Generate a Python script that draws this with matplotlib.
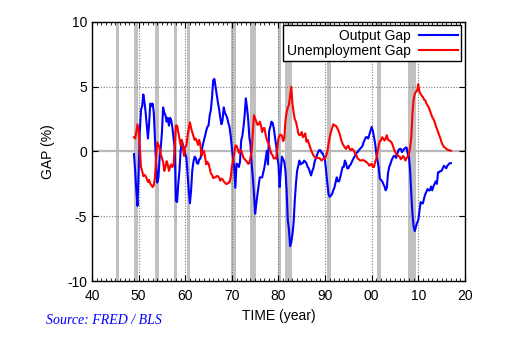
import numpy as np
import matplotlib
matplotlib.use("Agg")
import matplotlib.pyplot as plt
from matplotlib.ticker import MultipleLocator

# ===============================
# DATA (quarterly)
# ===============================
start_year = 1949.0

output_gap = [
    -0.2, -1.5, -3.0, -4.2,   # 1949
    -1.5, 1.5, 3.2, 3.5,      # 1950
    4.4, 3.8, 3.0, 2.0,
    1.0, 2.2, 3.7, 3.5,
    3.7, 3.0, 1.0, -1.0,
    -2.4, -2.0, -0.5, 0.3,
    1.5, 3.4, 3.0, 2.8,
    2.3, 2.6, 2.0, 2.6,
    2.4, 1.8, 1.0, 0.3,
    -3.8, -3.9, -2.5, -1.5,
    0.0, 0.85, 0.5, 0.3,
    -0.15, -0.5, -1.8, -3.0,  # 1960
    -4.0, -3.0, -1.5, -0.8,
    -0.4, -0.5, -0.9, -0.95,
    -0.6, -0.55, 0.0, 0.5,
    0.85, 1.2, 1.6, 1.9,
    2.0, 2.8, 3.2, 4.2,
    5.5, 5.6, 5.0, 4.45,
    3.8, 3.3, 2.65, 2.1,
    2.4, 3.4, 3.0, 2.8,
    2.6, 2.2, 1.9, 1.2,
    0.3, -0.5, -1.2, -2.8,    # 1970
    -0.95, -1.0, -1.2, -0.8,
    0.85, 1.2, 1.9, 2.8,
    4.1, 3.4, 2.5, 1.1,
    0.5, -0.95, -2.0, -3.3,
    -4.8, -4.0, -3.3, -2.6,
    -2.0, -2.0, -2.0, -1.6,
    -1.2, -0.6, 0.05, -1.0,
    1.6, 1.9, 2.3, 2.2,
    1.8, 1.1, 0.5, -0.45,
    -1.0, -2.75, -1.5, -0.4,  # 1980
    -0.6, -0.8, -1.5, -3.0,
    -5.3, -6.0, -7.3, -7.0,
    -6.4, -5.5, -3.8, -2.5,
    -1.5, -1.1, -0.7, -1.0,
    -0.9, -0.9, -0.7, -0.8,
    -0.9, -1.2, -1.3, -1.6,
    -1.85, -1.5, -1.3, -0.8,
    -0.55, -0.3, -0.05, 0.1,
    0.1, -0.1, -0.15, -0.4,
    -0.7, -1.6, -2.5, -3.3,   # 1990
    -3.5, -3.4, -3.3, -3.0,
    -2.8, -2.4, -2.0, -2.3,
    -2.3, -2.0, -1.6, -1.2,
    -1.2, -0.7, -0.9, -1.3,
    -1.3, -1.1, -1.0, -0.8,
    -0.6, -0.45, -0.3, -0.1,
    -0.05, 0.1, 0.2, 0.3,
    0.4, 0.7, 0.9, 1.1,
    1.1, 1.0, 1.3, 1.6,
    1.9, 1.6, 1.1, 0.6,       # 2000
    -0.2, -0.7, -1.2, -2.1,
    -2.2, -2.3, -2.5, -2.7,
    -3.0, -2.8, -1.7, -1.2,
    -1.0, -0.7, -0.5, -0.35,
    -0.35, -0.5, -0.2, 0.1,
    0.2, 0.2, -0.05, 0.1,
    0.2, 0.3, 0.3, -0.2,
    -0.4, -1.5, -3.3, -4.8,
    -5.8, -6.15, -5.8, -5.5,
    -5.3, -4.6, -3.9, -4.0,   # 2010
    -4.0, -3.6, -3.3, -3.1,
    -2.9, -3.0, -3.0, -2.7,
    -3.0, -2.7, -2.5, -2.3,
    -2.5, -1.6, -1.6, -1.5,
    -1.5, -1.3, -1.1, -1.2,
    -1.3, -1.1, -1.0, -0.9,
    -0.9,                     # 2017
]

unemployment_gap = [
    1.1, 1.0, 1.5, 2.1,       # 1949
    1.6, 0.35, -1.2, -1.5,    # 1950
    -1.9, -1.8, -1.9, -2.1,
    -2.35, -2.2, -2.5, -2.6,
    -2.75, -2.6, -2.0, -0.5,
    0.7, 0.5, 0.3, -0.2,
    -0.5, -0.8, -1.5, -1.2,
    -0.75, -1.0, -1.5, -1.2,
    -1.0, -1.2, -1.0, 0.5,
    2.0, 2.0, 1.5, 1.0,
    0.5, 0.9, 0.3, -0.35,
    0.3, 0.5, 1.2, 1.8,       # 1960
    2.25, 1.8, 1.5, 1.2,
    0.9, 1.0, 0.8, 0.5,
    0.9, 0.5, -0.35, 0.0,
    0.05, -0.4, -1.0, -0.8,
    -0.95, -1.3, -1.7, -1.8,
    -2.05, -2.0, -2.0, -1.9,
    -1.9, -2.0, -2.25, -2.1,
    -2.15, -2.3, -2.4, -2.5,
    -2.5, -2.4, -2.4, -2.0,
    -1.2, -0.7, -0.2, 0.45,   # 1970
    0.45, 0.2, -0.1, 0.1,
    0.05, -0.2, -0.5, -0.6,
    -0.7, -0.8, -0.95, -0.9,
    -0.45, 0.0, 1.5, 2.8,
    2.55, 2.3, 2.05, 2.1,
    2.3, 2.0, 1.5, 1.8,
    1.8, 1.3, 0.9, 0.7,
    0.5, 0.1, -0.2, -0.3,
    -0.55, -0.5, -0.55, 0.2,
    1.0, 1.25, 1.3, 1.2,      # 1980
    0.8, 1.0, 2.4, 3.0,
    3.4, 3.6, 4.3, 5.0,
    3.7, 3.0, 2.5, 2.3,
    1.9, 1.4, 1.25, 1.3,
    1.5, 1.1, 1.2, 1.4,
    0.75, 0.9, 0.65, 0.4,
    0.1, -0.1, -0.3, -0.4,
    -0.5, -0.5, -0.5, -0.5,
    -0.6, -0.7, -0.6, -0.55,
    -0.55, -0.3, 0.0, 0.6,    # 1990
    1.1, 1.5, 1.8, 2.1,
    2.0, 2.0, 1.9, 1.7,
    1.5, 1.2, 0.85, 0.6,
    0.45, 0.3, 0.2, 0.35,
    0.45, 0.2, 0.1, 0.2,
    0.15, 0.0, -0.2, -0.3,
    -0.55, -0.6, -0.7, -0.7,
    -0.65, -0.7, -0.7, -0.8,
    -0.85, -0.95, -1.1, -1.0,
    -0.95, -1.2, -1.2, -0.8,  # 2000
    -0.55, -0.1, 0.45, 0.8,
    0.85, 1.1, 1.0, 0.85,
    1.0, 1.25, 0.9, 0.85,
    0.8, 0.7, 0.5, 0.2,
    0.0, -0.2, -0.3, -0.35,
    -0.4, -0.6, -0.5, -0.35,
    -0.5, -0.7, -0.5, -0.4,
    -0.2, 0.3, 1.1, 2.9,
    4.0, 4.45, 4.6, 4.7,
    5.2, 4.6, 4.45, 4.3,      # 2010
    4.2, 4.0, 3.95, 3.7,
    3.55, 3.4, 3.15, 2.9,
    2.65, 2.5, 2.3, 2.0,
    1.75, 1.5, 1.25, 1.0,
    0.7, 0.5, 0.35, 0.3,
    0.2, 0.15, 0.1, 0.1,
    0.05,                     # 2017
]

# NBER recessions (start, end)
recessions = [
    (1945.1, 1945.8), (1948.9, 1949.8), (1953.5, 1954.4), (1957.6, 1958.3),
    (1960.3, 1961.1), (1969.9, 1970.9), (1973.9, 1975.2), (1980.0, 1980.5),
    (1981.5, 1982.9), (1990.5, 1991.2), (2001.2, 2001.9), (2007.9, 2009.5),
]

x_ticks = [1940, 1950, 1960, 1970, 1980, 1990, 2000, 2010, 2020]
x_tick_labels = ["40", "50", "60", "70", "80", "90", "00", "10", "20"]
y_ticks = [-10, -5, 0, 5, 10]

t_out = start_year + np.arange(len(output_gap)) / 4.0
t_unemp = start_year + np.arange(len(unemployment_gap)) / 4.0

# ===============================
# PLOT
# ===============================
plt.rcParams['font.family'] = ['Liberation Sans', 'DejaVu Sans']
plt.rcParams['font.size'] = 10
plt.rcParams['axes.unicode_minus'] = False

fig = plt.figure(figsize=(5.2, 3.37), dpi=100)
ax = fig.add_axes([0.177, 0.166, 0.717, 0.769])

for a, b in recessions:
    ax.axvspan(a, b, color='#c0c0c0', lw=0, zorder=0)

for xt in x_ticks[1:-1]:
    ax.axvline(xt, color='#777777', lw=0.8, ls=(0, (1, 1.5)), zorder=1)
for yt in [-5, 5]:
    ax.axhline(yt, color='#777777', lw=0.8, ls=(0, (1, 1.5)), zorder=1)
ax.axhline(0, color='#b8b8b8', lw=1.6, zorder=1)

ax.plot(t_out, output_gap, color='#0000ff', lw=1.5, label='Output Gap', zorder=3)
ax.plot(t_unemp, unemployment_gap, color='#ff0000', lw=1.5, label='Unemployment Gap', zorder=3)

ax.set_xlim(1940, 2020)
ax.set_ylim(-10, 10)
ax.set_xticks(x_ticks)
ax.set_xticklabels(x_tick_labels)
ax.set_yticks(y_ticks)
ax.xaxis.set_minor_locator(MultipleLocator(1))
ax.tick_params(which='both', direction='in', top=True, right=True, labelsize=10)
ax.tick_params(which='major', length=4, width=0.8)
ax.tick_params(which='minor', length=2, width=0.6)
ax.tick_params(axis='x', which='major', pad=6)
for s in ax.spines.values():
    s.set_linewidth(1.0)

ax.set_xlabel('TIME (year)', fontsize=10, labelpad=4)
ax.set_ylabel('GAP (%)', fontsize=10, labelpad=9)

leg = ax.legend(loc='upper right', markerfirst=False, fancybox=False, framealpha=1,
                edgecolor='black', handlelength=2.8, borderaxespad=0.25,
                handletextpad=0.6, labelspacing=0.05, borderpad=0.25, fontsize=10)
leg.get_frame().set_linewidth(1.0)
for txt in leg.get_texts():
    txt.set_ha('right')
leg._legend_box.align = 'right'

fig.text(0.088, 0.04, 'Source: FRED / BLS', color='#0000ff', style='italic',
         family='Liberation Serif', fontsize=10)

fig.savefig('out.png', dpi=100)
